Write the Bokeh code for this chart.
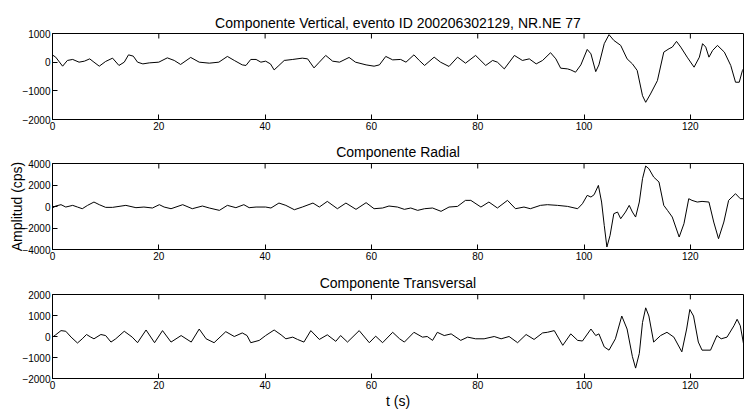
import math
from bokeh.plotting import figure
from bokeh.layouts import column
from bokeh.models import Range1d, FixedTicker
from bokeh.embed import file_html
from bokeh.resources import INLINE

FONT = "Liberation Sans"

titles = ["Componente Vertical, evento ID 200206302129, NR.NE 77",
          "Componente Radial",
          "Componente Transversal"]
x_label = "t (s)"
y_label = "Amplitud (cps)"
x_ticks = [0, 20, 40, 60, 80, 100, 120]
y_ticks_v = [-2000, -1000, 0, 1000]
y_ticks_r = [-4000, -2000, 0, 2000, 4000]
y_ticks_t = [-2000, -1000, 0, 1000, 2000]

# Vertical component (time s, counts)
t_v = [0, 0.6, 1.9, 2.8, 3.8, 5, 6, 7, 7.8, 8.8, 10, 11.3, 12.5, 13.5, 14.3, 15.2, 16, 17, 18.2, 20,
       21.6, 22.9, 24.1, 26, 27.6, 29.5, 31.3, 32.9, 34.2, 35.7, 36.4, 37.3, 38.3, 39.2, 40.1, 41,
       41.7, 42.6, 43.6, 45.2, 47, 48, 49.2, 50.2, 51.4, 52.7, 54, 55.8, 57, 59, 60.5, 61.5, 62.7,
       64, 65.5, 66.5, 68, 69, 70, 71.8, 73, 74.6, 76.2, 77.7, 79.6, 81.5, 82.8, 83.7, 85, 86.9,
       88.4, 89.7, 91, 92.2, 93.7, 94.7, 95.6, 96.9, 97.5, 98.4, 99.4, 100.6, 101.3, 102.2, 102.8,
       103.8, 104.7, 105.6, 106.9, 108.1, 109.1, 110, 111, 111.6, 112.5, 113.8, 115, 116, 116.6,
       117.4, 118.2, 119.4, 120.7, 121.7, 122.3, 122.9, 123.5, 124.2, 125.1, 126.4, 127.6, 128.5,
       129.2, 129.8, 130]
a_v = [250, 175, -140, 60, 95, 0, 35, 115, 0, -140, 25, 140, -115, 0, 255, 210, 0, -60, -25, 0,
       150, 60, -80, 165, 0, -35, 0, 200, 60, -95, -115, 95, 95, 0, 35, -60,
       -270, -115, 60, 95, 140, 115, -200, 0, 235, 35, 0, 165, 0, -95, -140, -95, 200,
       80, 95, 0, 255, 60, -115, 175, 0, -150, 175, -35, 235, -115, 60, 0, -235, 235,
       60, 115, -60, 60, 330, 115, -210, -235, -270, -350, -95, 445, 290, -330, -95,
       645, 960, 760, 585, 115, -60, -290, -1170, -1400, -1110, -645, 350, 470, 525,
       725, 525, 175, -175, 175, 645, 525, 175, 410, 585, 350, -115, -700,
       -700, -290, -235]

# Radial component
t_r = [0, 0.6, 1.6, 2.5, 3.8, 4.7, 5.6, 6.6, 7.8, 8.8, 10, 11.3, 13.8, 15.7, 17.2, 18.8, 20.1, 21,
       22.3, 24.5, 26.3, 28.2, 29.5, 31.4, 32.9, 34.5, 36, 37, 38.3, 40.1, 41.1, 42.6, 43.9, 45.5,
       47, 49, 50.2, 51.7, 53.6, 55.2, 57.1, 59, 60.5, 62.1, 63.3, 64.9, 66.2, 67.4, 68.7, 70,
       71.5, 73.1, 74.6, 76.2, 77.7, 78.7, 80.6, 82.1, 83.7, 85.6, 87.1, 88.7, 89.9, 91.8, 93.1,
       95, 96.9, 98.8, 99.7, 100.6, 101.3, 101.9, 102.7, 103.3, 103.8, 104.3, 104.9, 105.6, 106.3,
       106.9, 107.8, 108.5, 109.1, 109.7, 110.4, 111, 111.6, 112.2, 113.1, 114.1, 115, 115.7,
       116.6, 117.9, 118.8, 119.7, 120.3, 121.3, 122.2, 123.5, 124.4, 125.3, 126.3, 127.2, 128.5,
       129.4, 130]
a_r = [-140, 45, 170, -50, 105, -50, -205, 105, 415, 170, -80, -80, 105, -110, -50, -140, 170, -50,
       -205, 170, -205, 45, -140, -360, 105, -110, 170, -110, -50, -50, -140, 320, 105, -300,
       -50, 320, -50, 475, -205, 320, -265, 355, -205, -140, 45, -50, -265, -140, -360, -205,
       -140, -450, -50, 10, 570, 570, -50, 415, -140, 570, -205, -50, -205, 105, 170,
       105, 10, -205, 260, 1035, 880, 1100, 1965, 415, -1755, -3770, -2680, -670, -515,
       -1135, -515, 105, -515, -980, 415, 2585, 3765, 3515, 2740, 2275, 105, -360,
       -980, -2840, -1600, 725, 570, 415, 475, 415, -1445, -2995, -1445, 570, 1190,
       725, 725]

# Transversal component
t_t = [0, 0.6, 1.6, 2.5, 3.5, 4.7, 5.6, 6.4, 7.2, 7.8, 9.1, 10, 11, 11.9, 13.5, 15, 16, 17.6, 19.2,
       20.7, 22.3, 24.2, 26.1, 27.6, 28.9, 30.4, 32.6, 34.2, 35.7, 36.6, 37.3, 38.9, 40.1, 41.7,
       43, 43.9, 45.2, 46.1, 47.3, 48.6, 50.2, 51.7, 53.3, 54.2, 55.5, 57.7, 59.6, 60.8, 62.1,
       64, 65.3, 66.2, 68, 69.6, 70.5, 71.5, 72.4, 73.7, 75, 76.8, 78.1, 79.6, 81.2, 83.1, 84.4,
       85.9, 87.5, 89.1, 90.6, 92.2, 93.1, 94.4, 96, 97.5, 98.8, 99.7, 101.3, 102.2, 102.8, 103.8,
       104.7, 105.9, 107.1, 108.1, 109.1, 109.7, 110.4, 111, 111.6, 112.2, 113.1, 114.4, 115.6,
       116.9, 118.4, 119.3, 119.9, 120.6, 121.5, 122.2, 123.8, 125, 125.8, 126.9, 128.2, 128.8,
       129.4, 130]
a_t = [-30, 80, 280, 250, -30, -310, -110, 95, -30, -110, 95, 45, -265, -110, 250, -30, -295, 310, -295,
       280, -265, 45, -265, 355, -110, -295, 230, 0, 170, 45, -295, -185, 45, 310,
       80, -110, -30, -140, -265, 280, -140, 80, -230, 45, -265, 280, -295, 15, -295,
       200, -110, -265, 200, -30, 0, -185, 200, 45, 125, -185, -30, -110, -110, 0, -110,
       0, -295, 95, -140, 170, 200, 280, -420, 125, -185, -215, 355, 45, 125, -495,
       -650, -110, 975, 355, -960, -1505, -805, 665, 1365, 975, -265, 45, 200,
       -30, -730, 355, 1285, 975, -265, -650, -650, 45, -110, -30, 510, 820,
       510, -340]

FRAME_H = 86  # px


def make_panel(title, t, a, yr, yticks, height, top, bottom, title_standoff, xlabel=None, ylabel=None):
    p = figure(width=745, height=height, output_backend="svg", toolbar_location=None,
               x_range=Range1d(0, 130), y_range=Range1d(yr[0], yr[1]),
               min_border_left=52, min_border_right=2, min_border_top=top,
               min_border_bottom=bottom, background_fill_color="white",
               border_fill_color="white", outline_line_color="black", outline_line_width=1)
    p.title.text = title
    p.title.align = "center"
    p.title.text_font = FONT
    p.title.text_font_size = "14px"
    p.title.text_font_style = "normal"
    p.title.text_color = "black"
    p.title.standoff = title_standoff
    p.title.offset = 4
    p.xgrid.visible = False
    p.ygrid.visible = False
    xax = p.below[0]
    yax = p.left[0]
    xax.ticker = FixedTicker(ticks=x_ticks)
    yax.ticker = FixedTicker(ticks=yticks)
    for ax in (xax, yax):
        ax.major_tick_in = 5
        ax.major_tick_out = 0
        ax.minor_tick_line_color = None
        ax.major_label_text_font = FONT
        ax.major_label_text_font_size = "10px"
        ax.major_label_text_color = "black"
        ax.major_label_standoff = 2
        ax.axis_line_color = "black"
        ax.major_tick_line_color = "black"
    # inward tick marks along the top edge, at the x tick positions
    tick_len = (yr[1] - yr[0]) * 5.0 / FRAME_H
    p.segment(x0=x_ticks, x1=x_ticks, y0=[yr[1]] * len(x_ticks),
              y1=[yr[1] - tick_len] * len(x_ticks), line_color="black", line_width=1)
    if xlabel:
        xax.axis_label = xlabel
        xax.axis_label_text_font = FONT
        xax.axis_label_text_font_size = "14px"
        xax.axis_label_text_font_style = "normal"
        xax.axis_label_text_color = "black"
        xax.axis_label_standoff = 1
    if ylabel:
        yax.axis_label = ylabel
        yax.axis_label_text_font = FONT
        yax.axis_label_text_font_size = "14px"
        yax.axis_label_text_font_style = "normal"
        yax.axis_label_text_color = "black"
        yax.axis_label_standoff = -6
    p.line(t, a, line_color="black", line_width=1, line_join="round")
    return p


p1 = make_panel(titles[0], t_v, a_v, (-2000, 1000), y_ticks_v, 136, 33, 17, 6)
p2 = make_panel(titles[1], t_r, a_r, (-4000, 4000), y_ticks_r, 130, 27, 17, 7, ylabel=y_label)
p3 = make_panel(titles[2], t_t, a_t, (-2000, 2000), y_ticks_t, 145, 28, 31, 7, xlabel=x_label)

layout = column(p1, p2, p3, spacing=0)
open("out.html", "w").write(file_html(layout, INLINE))
